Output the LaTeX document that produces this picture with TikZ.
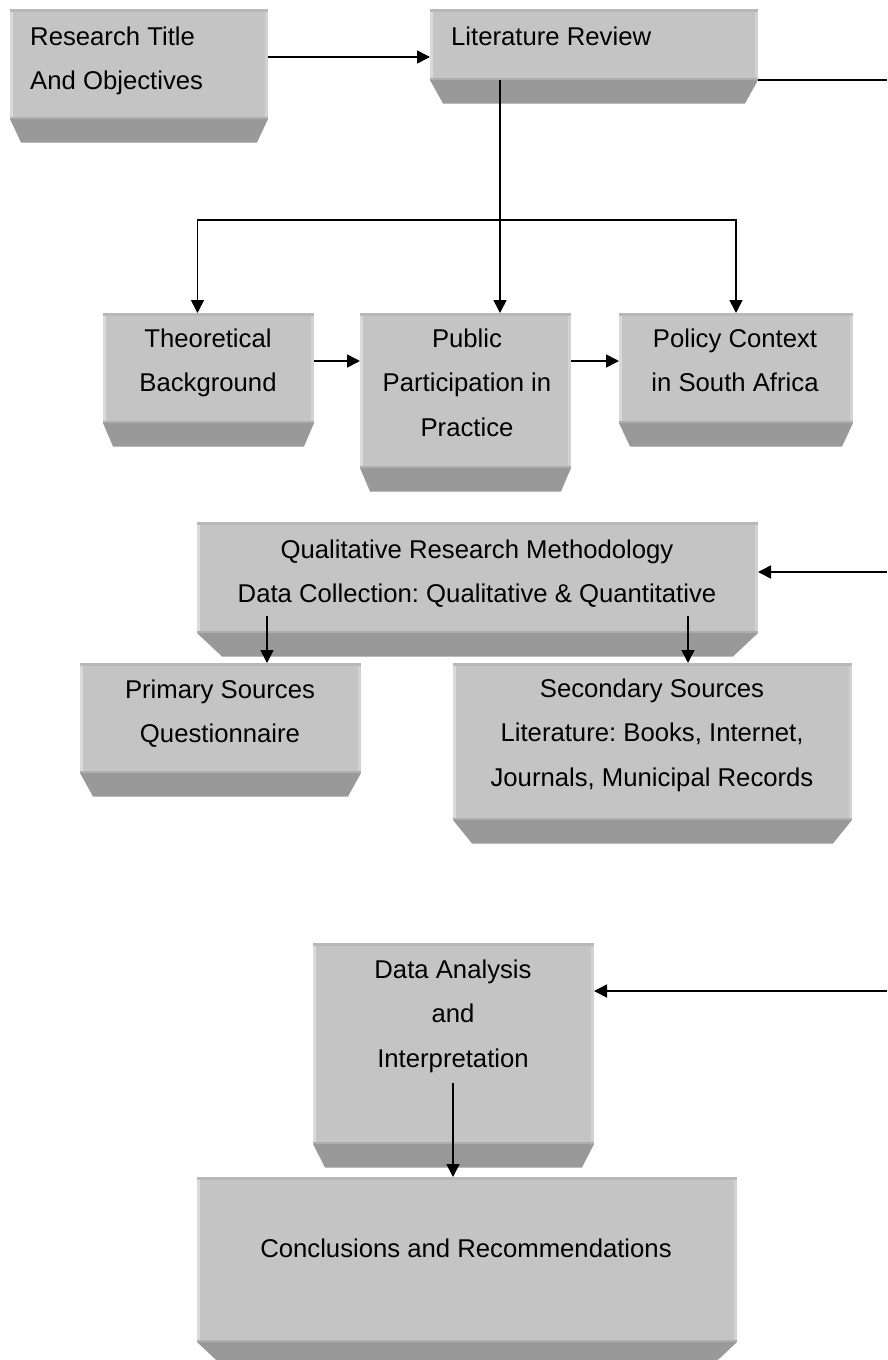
\documentclass[tikz,border=0pt]{standalone}
\usepackage{fontspec}
\setmainfont{Liberation Sans}
\usetikzlibrary{arrows.meta}
\frenchspacing

\definecolor{faceC}{HTML}{C4C4C4}
\definecolor{baseC}{HTML}{999999}
\definecolor{topC}{HTML}{B8B8B8}
\definecolor{leftC}{HTML}{DADADA}
\definecolor{rightC}{HTML}{D2D2D2}
\definecolor{seamC}{HTML}{AEAEAE}

\tikzset{
  face/.style={fill=faceC, draw=none, inner sep=0pt, outer sep=0pt, rectangle},
  lbl/.style={font=\fontsize{25.7}{44.5}\selectfont, inner sep=0pt, anchor=north, align=center},
  lbll/.style={lbl, anchor=north west, align=left},
  conn/.style={line width=1.6pt, black},
  arr/.style={conn, -{Triangle[length=13pt,width=13pt]}},
}

% bevelled box: name, left, top, width, height, bottom inset
\newcommand\bevelbox[6]{%
  \node[face, minimum width=#4pt, minimum height=#5pt, anchor=north west] (#1) at (#2,#3) {};
  \fill[baseC] (#1.south west) -- (#1.south east)
     -- ([shift={(-#6pt,-23.5pt)}]#1.south east)
     -- ([shift={(#6pt,-23.5pt)}]#1.south west) -- cycle;
  \fill[topC] (#1.north west) rectangle ([yshift=-2.5pt]#1.north east);
  \fill[leftC] ([yshift=-2.5pt]#1.north west) rectangle ([xshift=3pt]#1.south west);
  \fill[rightC] ([shift={(-3pt,-2.5pt)}]#1.north east) rectangle (#1.south east);
  \fill[seamC] ([yshift=2.5pt]#1.south west) rectangle (#1.south east);
}
\newcommand\fl{\rule{0pt}{24pt}}

\begin{document}
\begin{tikzpicture}[x=1pt, y=-1pt]
  \fill[white] (0,0) rectangle (887,1360);
  \useasboundingbox (0,0) rectangle (887,1360);

  % boxes
  \bevelbox{rt}{10}{9}{258}{110}{11}
  \bevelbox{lr}{430}{9}{328}{71}{13}
  \bevelbox{tb}{103}{313}{211}{110}{10}
  \bevelbox{pp}{360}{313}{211}{155}{10}
  \bevelbox{pc}{619}{313}{234}{110}{11}
  \bevelbox{qm}{197}{522}{561}{111}{25}
  \bevelbox{pr}{80}{663}{281}{110}{13}
  \bevelbox{ss}{453}{663}{399}{157}{19}
  \bevelbox{da}{313}{943}{281}{201}{12}
  \bevelbox{cr}{197}{1177}{540}{165}{25}

  % texts
  \node[lbll] (rt-t) at (30,21) {\fl Research Title\\And Objectives};
  \node[lbll] (lr-t) at (451,21) {\fl Literature Review};
  \node[lbl] (tb-t) at (208,323) {\fl Theoretical\\Background};
  \node[lbl] (pp-t) at (467,323) {\fl Public\\Participation in\\Practice};
  \node[lbl] (pc-t) at (735,323) {\fl Policy Context\\in South Africa};
  \node[lbl] (qm-t) at (477,534) {\fl Qualitative Research Methodology\\Data Collection: Qualitative \& Quantitative};
  \node[lbl] (pr-t) at (220,674) {\fl Primary Sources\\Questionnaire};
  \node[lbl] (ss-t) at (652,673) {\fl Secondary Sources\\Literature: Books, Internet,\\Journals, Municipal Records};
  \node[lbl] (da-t) at (453,954) {\fl Data Analysis\\and\\Interpretation};
  \node[lbl] (cr-t) at (466,1233) {\fl Conclusions and Recommendations};

  % connectors
  \coordinate (fk) at (500,220);
  \coordinate (e1) at (887,80);
  \coordinate (e2) at (887,572);
  \coordinate (e3) at (887,991);
  \coordinate (qa) at (267,616);
  \coordinate (qb) at (688,616);
  \coordinate (dc) at (453,1083);
  \coordinate (rowA) at (0,361);

  \draw[arr] ([yshift=7pt]rt.east) -- ([yshift=7pt]rt.east -| lr.west);
  \draw[conn] (lr.south east) -- (e1);
  \draw[conn] (fk |- lr.south) -- (fk);
  \draw[arr] (fk) -- (fk |- pp.north);
  \draw[arr] (fk) -| ([xshift=-11pt]tb.north);
  \draw[arr] (fk) -| (pc.north);
  \draw[arr] (tb.east |- rowA) -- (pp.west |- rowA);
  \draw[arr] (pp.east |- rowA) -- (pc.west |- rowA);
  \draw[arr] (e2) -- (e2 -| qm.east);
  \draw[arr] (qa) -- (qa |- pr.north);
  \draw[arr] (qb) -- (qb |- ss.north);
  \draw[arr] (e3) -- (e3 -| da.east);
  \draw[arr] (dc) -- (dc |- cr.north);
\end{tikzpicture}
\end{document}
